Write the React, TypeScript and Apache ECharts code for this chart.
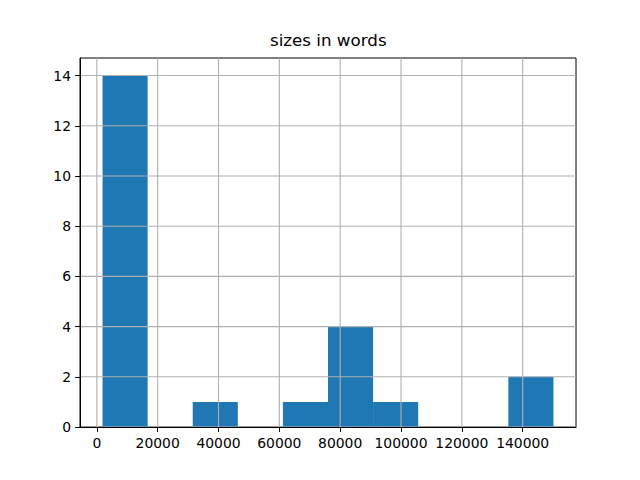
import React, { useEffect, useRef } from "react";
import * as echarts from "echarts";

// histogram of sizes in words (10 bins)
const binEdges = [1880, 16703, 31526, 46349, 61172, 75995, 90818, 105641, 120464, 135287, 150110];
const counts = [14, 0, 1, 0, 1, 4, 1, 0, 0, 2];
const xTicks = [0, 20000, 40000, 60000, 80000, 100000, 120000, 140000];
const yTicks = [0, 2, 4, 6, 8, 10, 12, 14];
const titleText = "sizes in words";

const X_MIN = -5532;
const X_MAX = 157522;
const Y_MIN = 0;
const Y_MAX = 14.7;

export default function App() {
  const ref = useRef<HTMLDivElement>(null);
  useEffect(() => {
    if (!ref.current) return;
    const chart = echarts.init(ref.current, undefined, { renderer: "svg" });
    const barData = counts.map((c, i) => [binEdges[i], binEdges[i + 1], c]);
    const font = "DejaVu Sans";
    chart.setOption({
      animation: false,
      backgroundColor: "#fff",
      title: {
        text: titleText,
        left: 270,
        top: 31,
        padding: 0,
        textStyle: { fontFamily: font, fontSize: 16.7, fontWeight: "normal", color: "#000" },
      },
      grid: {
        left: 80,
        right: 64,
        top: 58,
        bottom: 53,
        show: true,
        borderColor: "#000",
        borderWidth: 1,
        backgroundColor: "#fff",
      },
      xAxis: {
        type: "value",
        min: X_MIN,
        max: X_MAX,
        z: 10,
        axisLine: { show: true, onZero: false, lineStyle: { color: "#000", width: 1 } },
        axisTick: { show: true, customValues: xTicks, length: 4.9, lineStyle: { color: "#000", width: 1 } },
        axisLabel: {
          customValues: xTicks,
          formatter: (v: number) => String(v),
          margin: 9,
          color: "#000",
          fontFamily: font,
          fontSize: 13.9,
        },
        splitLine: { show: false },
      },
      yAxis: {
        type: "value",
        min: Y_MIN,
        max: Y_MAX,
        z: 10,
        axisLine: { show: true, onZero: false, lineStyle: { color: "#000", width: 1 } },
        axisTick: { show: true, customValues: yTicks, length: 4.9, lineStyle: { color: "#000", width: 1 } },
        axisLabel: {
          customValues: yTicks,
          formatter: (v: number) => String(v),
          margin: 9,
          color: "#000",
          fontFamily: font,
          fontSize: 13.9,
        },
        splitLine: { show: false },
      },
      series: [
        {
          type: "custom",
          z: 2,
          clip: true,
          data: barData,
          encode: { x: [0, 1], y: 2 },
          renderItem: (params: any, api: any) => {
            const x0 = api.value(0);
            const x1 = api.value(1);
            const c = api.value(2);
            const p0 = api.coord([x0, c]);
            const p1 = api.coord([x1, 0]);
            return {
              type: "rect",
              shape: { x: p0[0], y: p0[1], width: p1[0] - p0[0], height: p1[1] - p0[1] },
              style: { fill: "#1f77b4" },
            };
          },
        },
        {
          type: "custom",
          z: 5,
          silent: true,
          data: xTicks.map((v) => [v, 0]),
          encode: { x: 0, y: 1 },
          renderItem: (params: any, api: any) => {
            const v = api.value(0);
            const a = api.coord([v, Y_MIN]);
            const b = api.coord([v, Y_MAX]);
            return {
              type: "line",
              shape: { x1: a[0], y1: a[1], x2: b[0], y2: b[1] },
              style: { stroke: "#b0b0b0", lineWidth: 1.1 },
            };
          },
        },
        {
          type: "custom",
          z: 5,
          silent: true,
          data: yTicks.map((v) => [0, v]),
          encode: { x: 0, y: 1 },
          renderItem: (params: any, api: any) => {
            const v = api.value(1);
            const a = api.coord([X_MIN, v]);
            const b = api.coord([X_MAX, v]);
            return {
              type: "line",
              shape: { x1: a[0], y1: a[1], x2: b[0], y2: b[1] },
              style: { stroke: "#b0b0b0", lineWidth: 1.1 },
            };
          },
        },
      ],
    });
    return () => chart.dispose();
  }, []);
  return (
    <div
      ref={ref}
      style={{ position: "fixed", left: 0, top: 0, width: 640, height: 480 }}
    />
  );
}
